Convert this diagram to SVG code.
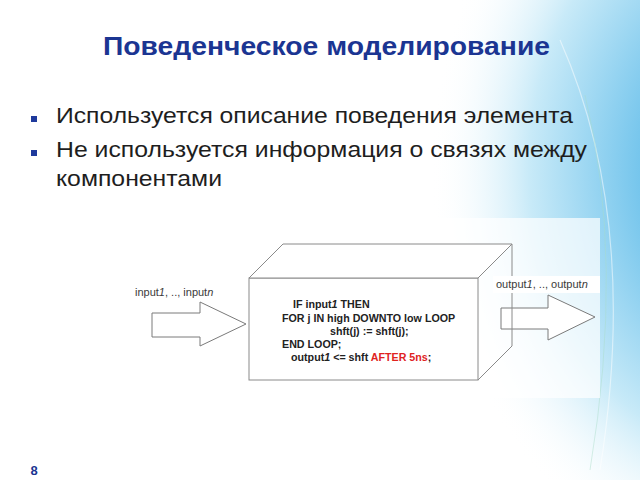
<svg xmlns="http://www.w3.org/2000/svg" width="640" height="480" viewBox="0 0 640 480">
  <style>
    .title { font-family: "Liberation Sans", Arial, sans-serif; font-weight: bold; font-size: 25px; fill: #1b3592; }
    .bul { font-family: "Liberation Sans", Arial, sans-serif; font-size: 22.5px; fill: #1e1e1e; }
    .code { font-family: "Liberation Sans", Arial, sans-serif; font-weight: bold; font-size: 10.7px; fill: #222; }
    .red { fill: #e0231f; }
    .lbl { font-family: "Liberation Sans", Arial, sans-serif; font-size: 11px; fill: #3a3a3a; }
    .edge { fill: none; stroke: #8a8a8a; stroke-width: 1; }
    .blk { fill: #ffffff; stroke: #7a7a7a; stroke-width: 1; }
    .sq { fill: #1f3a9c; }
  </style>
  <defs>
    <radialGradient id="bg" gradientUnits="userSpaceOnUse" cx="760" cy="170" r="330" gradientTransform="translate(760 170) scale(1 1.25) translate(-760 -170)">
      <stop offset="0" stop-color="#3aa3de"/>
      <stop offset="0.35" stop-color="#72c4ec"/>
      <stop offset="0.7" stop-color="#c8eaf8"/>
      <stop offset="1" stop-color="#ffffff" stop-opacity="0"/>
    </radialGradient>
  </defs>
  <rect x="0" y="0" width="640" height="480" fill="#ffffff"/>
  <rect x="0" y="0" width="640" height="480" fill="url(#bg)"/>
  <path d="M560 40 Q640 220 600 470" fill="none" stroke="#ffffff" stroke-opacity="0.5" stroke-width="1.2"/>
  <path d="M585 95 Q625 260 590 470" fill="none" stroke="#a8dcc8" stroke-opacity="0.45" stroke-width="1"/>

  <text class="title" x="103" y="55" textLength="447" lengthAdjust="spacingAndGlyphs">Поведенческое моделирование</text>

  <g id="bullets">
    <rect class="sq" x="31" y="116" width="6" height="6"/>
    <text class="bul" x="56" y="123" textLength="517" lengthAdjust="spacingAndGlyphs">Используется описание поведения элемента</text>
    <rect class="sq" x="31" y="150" width="6" height="6"/>
    <text class="bul" x="56" y="157" textLength="531" lengthAdjust="spacingAndGlyphs">Не используется информация о связях между</text>
    <text class="bul" x="56" y="186" textLength="166" lengthAdjust="spacingAndGlyphs">компонентами</text>
  </g>

  <rect x="118" y="218" width="482" height="180" fill="#ffffff" fill-opacity="0.7"/>

  <g id="connectors">
    <polygon class="blk" points="152,313 200,313 200,302 246,324 200,346 200,337 152,337"/>
    <polygon class="blk" points="501,308 548,308 548,295 595,317 548,340 548,329 501,329"/>
  </g>

  <g id="block">
    <rect x="249" y="278" width="229" height="102" fill="#ffffff" stroke="#8a8a8a" stroke-width="1"/>
    <polygon points="249,278 283,244 512,244 478,278" fill="#ffffff" stroke="#8a8a8a" stroke-width="1"/>
    <path class="edge" d="M478 278 L512 244 L512 346 L478 380"/>
    <text class="code" x="293" y="308">IF input<tspan font-style="italic">1</tspan> THEN</text>
    <text class="code" x="282" y="322">FOR j IN high DOWNTO low LOOP</text>
    <text class="code" x="330" y="335">shft(j) := shft(j);</text>
    <text class="code" x="282" y="348">END LOOP;</text>
    <text class="code" x="291" y="361">output<tspan font-style="italic">1</tspan> &lt;= shft <tspan class="red">AFTER 5ns</tspan>;</text>
  </g>

  <g id="input-label">
    <text class="lbl" x="135" y="296">input<tspan font-style="italic">1</tspan>, .., input<tspan font-style="italic">n</tspan></text>
  </g>
  <g id="output-label">
    <rect x="493" y="276" width="107" height="17" fill="#ffffff"/>
    <text class="lbl" x="496" y="288">output<tspan font-style="italic">1</tspan>, .., output<tspan font-style="italic">n</tspan></text>
  </g>

  <text x="34" y="475" text-anchor="middle" font-family="Liberation Sans, Arial, sans-serif" font-weight="bold" font-size="13" fill="#1b3592">8</text>
</svg>
